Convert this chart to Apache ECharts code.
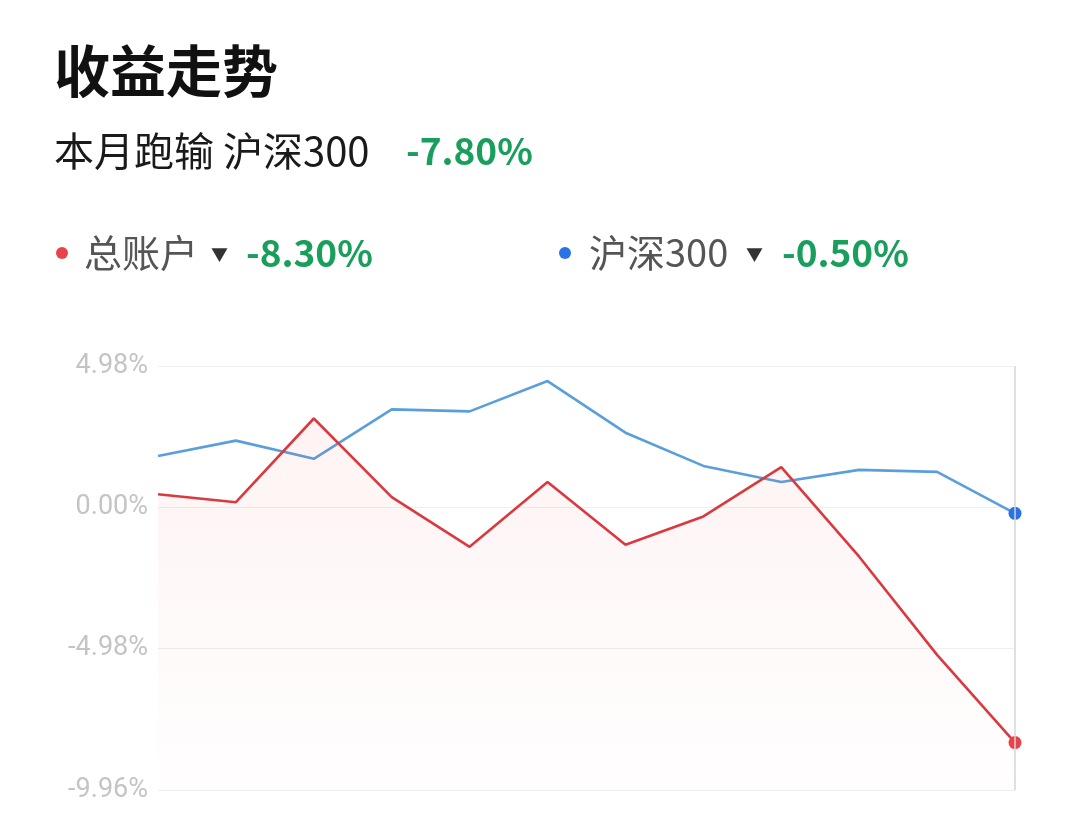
<!DOCTYPE html>
<html><head><meta charset="utf-8">
<style>html,body{margin:0;padding:0;background:#fff;}#c{width:1080px;height:817px;}</style>
<script src="https://cdn.jsdelivr.net/npm/echarts@6/dist/echarts.min.js"></script>
</head><body><div id="c"></div>
<script>
const categories = ['1','2','3','4','5','6','7','8','9','10','11','12'];
const accountValues = [0.46, 0.18, 3.13, 0.36, -1.39, 0.89, -1.32, -0.32, 1.42, -1.74, -5.20, -8.29];
const indexValues = [1.81, 2.35, 1.71, 3.45, 3.38, 4.45, 2.63, 1.46, 0.89, 1.32, 1.25, -0.21];
const yTicks = [-9.96, -4.98, 0, 4.98];
const titleText = '收益走势';
const subPrefix = '本月跑输 沪深300';
const subValue = '-7.80%';
const legendAccount = ['总账户', '-8.30%'];
const legendIndex = ['沪深300', '-0.50%'];

const font = '"Noto Sans CJK SC", "Noto Sans", sans-serif';
const green = '#1a9e5c';
const red = '#e8434a';
const blue = '#2a72e8';
const chart = echarts.init(document.getElementById('c'));
const last = categories.length - 1;
function endPoint(arr, color) {
  return arr.map((v, i) => i === last ? {value: v, symbol: 'circle', symbolSize: 13, itemStyle: {color: color, borderWidth: 0}} : v);
}
function txt(x, y, text, size, color, weight) {
  return {type: 'text', x: x, y: y, silent: true,
    style: {text: text, font: (weight || 'normal') + ' ' + size + 'px ' + font, fill: color, verticalAlign: 'middle', align: 'left'}};
}
chart.setOption({
  animation: false,
  backgroundColor: '#fff',
  graphic: [
    txt(54, 71, titleText, 56, '#111', 'bold'),
    txt(54, 151, subPrefix, 40, '#1a1a1a'),
    txt(406, 151, subValue, 37, green, 'bold'),
    {type: 'circle', shape: {cx: 62, cy: 253, r: 6}, style: {fill: red}, silent: true},
    txt(84, 253, legendAccount[0], 38, '#555'),
    txt(211, 255, '▼', 17, '#333'),
    txt(246, 253, legendAccount[1], 37, green, 'bold'),
    {type: 'circle', shape: {cx: 565, cy: 253, r: 6}, style: {fill: blue}, silent: true},
    txt(589, 253, legendIndex[0], 38, '#555'),
    txt(746, 255, '▼', 17, '#333'),
    txt(782, 253, legendIndex[1], 37, green, 'bold')
  ],
  grid: {left: 158, right: 65, top: 366, bottom: 27},
  xAxis: {type: 'category', data: categories, boundaryGap: false,
    axisLine: {show: false}, axisTick: {show: false}, axisLabel: {show: false}, splitLine: {show: false}},
  yAxis: {type: 'value', min: yTicks[0], max: yTicks[yTicks.length - 1], interval: 4.98,
    axisLine: {show: false}, axisTick: {show: false},
    axisLabel: {formatter: v => v.toFixed(2) + '%', color: '#c4c4c4', fontSize: 27, fontFamily: 'Roboto, sans-serif', margin: 10},
    splitLine: {lineStyle: {color: '#efefef', width: 1}}},
  series: [
    {name: legendAccount[0], type: 'line', data: endPoint(accountValues, red), showSymbol: true, symbol: 'none',
     lineStyle: {color: '#d93a3f', width: 2.6}, itemStyle: {color: red},
     areaStyle: {origin: 'start', color: new echarts.graphic.LinearGradient(0, 0, 0, 1, [{offset: 0, color: 'rgba(240,90,90,0.10)'}, {offset: 1, color: 'rgba(240,90,90,0.01)'}])},
     markLine: {silent: true, symbol: 'none', label: {show: false}, lineStyle: {color: '#d6d6d6', width: 1.5, type: 'solid'}, data: [{xAxis: categories[last]}]},
     z: 3},
    {name: legendIndex[0], type: 'line', data: endPoint(indexValues, blue), showSymbol: true, symbol: 'none',
     lineStyle: {color: '#5a9fdb', width: 2.6}, itemStyle: {color: blue}, z: 2}
  ]
});
</script></body></html>
